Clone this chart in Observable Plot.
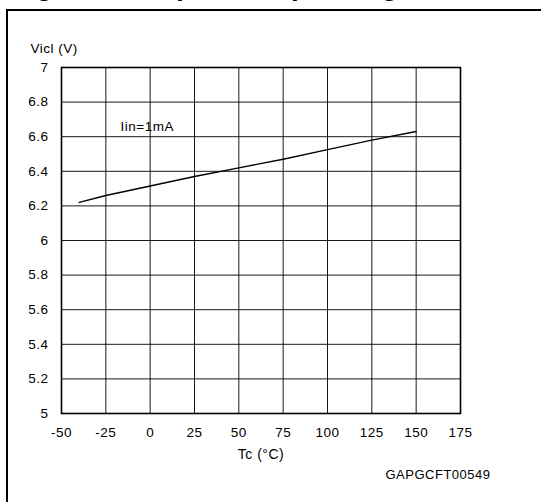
<!DOCTYPE html>
<html><head><meta charset="utf-8">
<script src="https://cdn.jsdelivr.net/npm/d3@7"></script>
<script src="https://cdn.jsdelivr.net/npm/@observablehq/plot@0.6"></script>
<style>
body{margin:0;background:#fff;}
#wrap{position:relative;width:541px;height:502px;overflow:hidden;font-family:"Liberation Sans",Arial,sans-serif;}
#title{position:absolute;left:11px;top:-28px;font-size:28px;line-height:28px;font-weight:bold;white-space:nowrap;color:#000;}
#box{position:absolute;left:6px;top:9px;width:600px;height:600px;border-left:2.5px solid #000;border-top:2.5px solid #000;}
#chart{position:absolute;left:0;top:0;}
#chart svg text{letter-spacing:0.5px;}
</style></head><body>
<div id="wrap"><div id="title">Figure 12. Input clamp voltage</div><div id="box"></div><div id="chart"></div></div>
<script>
const temperature = [-40, -25, 0, 25, 50, 75, 100, 125, 150];
const vicl = [6.22, 6.26, 6.315, 6.37, 6.42, 6.47, 6.525, 6.58, 6.63];
const xTicks = [-50, -25, 0, 25, 50, 75, 100, 125, 150, 175];
const yTicks = [5, 5.2, 5.4, 5.6, 5.8, 6, 6.2, 6.4, 6.6, 6.8, 7];
const xLabel = "Tc (°C)";
const yLabel = "Vicl (V)";
const curveLabel = "Iin=1mA";
const codeLabel = "GAPGCFT00549";

const data = temperature.map((t, i) => ({t, v: vicl[i]}));

const chart = Plot.plot({
  width: 541,
  height: 502,
  marginLeft: 61,
  marginRight: 81,
  marginTop: 67,
  marginBottom: 89,
  style: {background: "transparent", fontSize: "13.5px", fontFamily: "'Liberation Sans', Arial, sans-serif", color: "#000"},
  x: {domain: [-50, 175]},
  y: {domain: [5, 7]},
  marks: [
    Plot.gridX(xTicks, {stroke: "#000", strokeOpacity: 0.9, strokeWidth: 1}),
    Plot.gridY(yTicks, {stroke: "#000", strokeOpacity: 0.9, strokeWidth: 1}),
    Plot.frame({stroke: "#000", strokeWidth: 1.6}),
    Plot.axisX(xTicks, {tickSize: 0, tickPadding: 14, tickFormat: d => String(d), label: null, fill: "#000", fontSize: 13.5}),
    Plot.axisY(yTicks, {tickSize: 0, tickPadding: 13, tickFormat: d => String(d), label: null, fill: "#000", fontSize: 13.5}),
    Plot.line(data, {x: "t", y: "v", stroke: "#000", strokeWidth: 1.4}),
    Plot.text([curveLabel], {frameAnchor: "top-left", dx: 59, dy: 54, textAnchor: "start", fill: "#000", fontSize: 13.5}),
    Plot.text([yLabel], {frameAnchor: "top-left", dx: -31, dy: -24, textAnchor: "start", fill: "#000", fontSize: 13.5}),
    Plot.text([xLabel], {frameAnchor: "bottom", dx: 0, dy: 45, fill: "#000", fontSize: 14}),
    Plot.text([codeLabel], {frameAnchor: "bottom-right", dx: -75, dy: 65, textAnchor: "start", fill: "#000", fontSize: 13})
  ]
});
document.getElementById("chart").appendChild(chart);
</script>
</body></html>
